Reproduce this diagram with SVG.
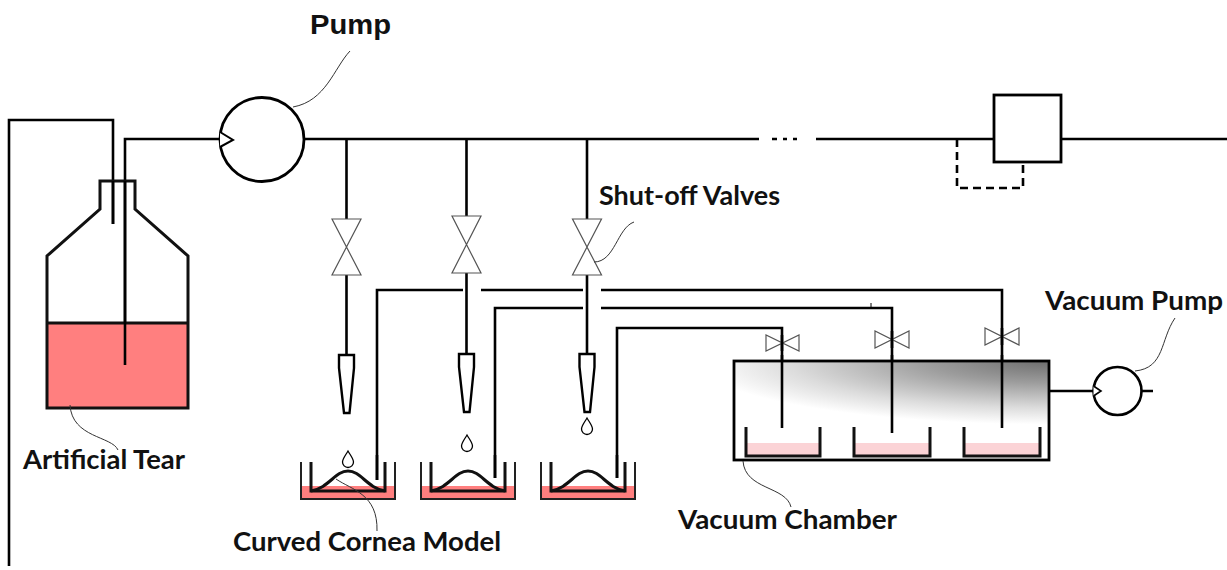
<svg xmlns="http://www.w3.org/2000/svg" width="1227" height="570" viewBox="0 0 1227 570">
  <style>
    .pipe { fill: none; stroke: #000; stroke-width: 2.6; }
    .thick { fill: none; stroke: #111; stroke-width: 3; }
    .valve { fill: #fff; stroke: #555; stroke-width: 1.2; stroke-linejoin: miter; }
    .lead { fill: none; stroke: #333; stroke-width: 1; }
    .lbl { font-family: Lato, "Open Sans", sans-serif; font-weight: bold; font-size: 26px; fill: #111; }
    .lbl2 { font-family: "Liberation Sans", Arial, sans-serif; font-weight: bold; font-size: 27px; fill: #111; }
    .tip { fill: #fff; stroke: #000; stroke-width: 2.4; stroke-linejoin: miter; }
    .drop { fill: #fff; stroke: #000; stroke-width: 1.3; }
    .pinkfill { fill: #ff7f7f; }
    .lightpink { fill: #fbd3d6; }
  </style>
  <defs>
    <radialGradient id="chamberShade" gradientUnits="userSpaceOnUse" cx="1049" cy="361" r="400"
      gradientTransform="translate(1049 361) scale(1 0.18) translate(-1049 -361)">
      <stop offset="0" stop-color="#6e6e6e"/>
      <stop offset="0.3" stop-color="#9c9c9c"/>
      <stop offset="0.65" stop-color="#dcdcdc"/>
      <stop offset="0.88" stop-color="#ffffff"/>
    </radialGradient>
  </defs>

  <rect width="1227" height="570" fill="#fff"/>

  <!-- pipework -->
  <g id="connectors">
    <!-- return line and feed line from the bottle -->
    <path class="pipe" d="M9,566 V120 H113 V224"/>
    <path class="pipe" d="M125,365 V139 H220"/>
    <!-- main header after the pump -->
    <path class="pipe" d="M304,139 H759"/>
    <path class="pipe" d="M772,139 H777 M783,139 H787 M793,139 H797"/>
    <path class="pipe" d="M816,139 H994 M1061,139 H1227"/>
    <path class="pipe" d="M957,139 V188 H1023 V165" stroke-dasharray="8 5"/>
    <!-- branches down to the dispensing tips -->
    <path class="pipe" d="M346.5,139 V219 M346.5,275 V355"/>
    <path class="pipe" d="M466.5,139 V216 M466.5,273 V354"/>
    <path class="pipe" d="M587,139 V219 M587,275 V354"/>
    <!-- suction lines from the dishes to the vacuum chamber -->
    <path class="pipe" d="M377,480 V290 H463 M481,290 H583 M601,290 H1002 V428"/>
    <path class="pipe" d="M495,478 V308 H583 M601,308 H892 V433"/>
    <path class="pipe" d="M617,478 V328 H782 V428"/>
    <path fill="none" stroke="#000" stroke-width="1" d="M871,303 V307"/>
    <!-- chamber to vacuum pump -->
    <path class="pipe" d="M1049,391 H1093 M1142,391 H1153"/>
  </g>

  <!-- artificial tear reservoir -->
  <g id="bottle">
    <rect class="pinkfill" x="47" y="323" width="141" height="85"/>
    <path class="thick" d="M47,408 V256 L100,209 V181 H135 V209 L188,256 V408 Z"/>
    <path class="thick" d="M47,323 H188"/>
    <path class="pipe" d="M113,181 V224 M125,181 V365"/>
  </g>

  <!-- circulation pump -->
  <g id="pump">
    <circle cx="262" cy="139.5" r="42" fill="#fff" stroke="#000" stroke-width="2.8"/>
    <path fill="#fff" stroke="#000" stroke-width="2" d="M220,132 L233,140 L220,147"/>
  </g>

  <!-- flow element with bypass -->
  <g id="flow-box">
    <rect x="994" y="95" width="67" height="67" fill="#fff" stroke="#000" stroke-width="2.8"/>
  </g>

  <!-- shut-off valves on the branches -->
  <g id="shutoff-valves">
    <path class="valve" d="M332,219 L361,219 L332,275 L361,275 Z"/>
    <path class="valve" d="M452,216 L481,216 L452,273 L481,273 Z"/>
    <path class="valve" d="M572.5,219 L601.5,219 L572.5,275 L601.5,275 Z"/>
  </g>

  <!-- dispensing tips and drops -->
  <g id="tips">
    <path class="tip" d="M339,355 H354 V368 L349.5,413 H344 L339,368 Z"/>
    <path class="tip" d="M459,354 H474 V367 L469.5,412 H464 L459,367 Z"/>
    <path class="tip" d="M579.5,354 H594.5 V367 L590,412 H584.5 L579.5,367 Z"/>
    <path class="drop" d="M348,451 C345,456 342.5,459 342.5,462 A5.5,5.5 0 0 0 353.5,462 C353.5,459 351,456 348,451 Z"/>
    <path class="drop" d="M467,435 C464,440 461.5,443 461.5,446 A5.5,5.5 0 0 0 472.5,446 C472.5,443 470,440 467,435 Z"/>
    <path class="drop" d="M587,418 C584,423 581.5,426 581.5,429 A5.5,5.5 0 0 0 592.5,429 C592.5,426 590,423 587,418 Z"/>
  </g>

  <!-- curved cornea model dishes -->
  <g id="cornea-dish-1">
    <rect class="pinkfill" x="301" y="486" width="94" height="13"/>
    <path fill="none" stroke="#222" stroke-width="2" d="M301,462 V499 H395 V462"/>
    <path class="thick" d="M311,462 V491 H385 V462"/>
    <path class="thick" d="M311,491 C329,488 335,471 348,471 C361,471 367,488 385,491"/>
  </g>
  <g id="cornea-dish-2">
    <rect class="pinkfill" x="421" y="486" width="94" height="13"/>
    <path fill="none" stroke="#222" stroke-width="2" d="M421,462 V499 H515 V462"/>
    <path class="thick" d="M431,462 V491 H505 V462"/>
    <path class="thick" d="M431,491 C449,488 455,471 468,471 C481,471 487,488 505,491"/>
  </g>
  <g id="cornea-dish-3">
    <rect class="pinkfill" x="541" y="486" width="94" height="13"/>
    <path fill="none" stroke="#222" stroke-width="2" d="M541,462 V499 H635 V462"/>
    <path class="thick" d="M551,462 V491 H625 V462"/>
    <path class="thick" d="M551,491 C569,488 575,471 588,471 C601,471 607,488 625,491"/>
  </g>
  <!-- suction line ends inside the dishes (drawn above the bumps) -->
  <g id="suction-ends">
    <path class="pipe" d="M377,455 V480 M495,455 V478 M617,455 V478"/>
  </g>

  <!-- vacuum chamber with collection beakers -->
  <g id="vacuum-chamber">
    <rect x="734" y="361" width="315" height="99" fill="url(#chamberShade)" stroke="#000" stroke-width="2.8"/>
    <rect class="lightpink" x="747" y="443" width="72" height="13"/>
    <rect class="lightpink" x="855" y="443" width="74" height="13"/>
    <rect class="lightpink" x="965" y="443" width="74" height="13"/>
    <path class="thick" d="M746,427 V456 H820 V427"/>
    <path class="thick" d="M854,427 V456 H930 V427"/>
    <path class="thick" d="M964,427 V456 H1040 V427"/>
    <path class="pipe" d="M782,355 V428 M892,355 V433 M1002,355 V428"/>
  </g>
  <g id="vacuum-valves">
    <path class="valve" d="M766,335 L766,351 L799,335 L799,351 Z"/>
    <path class="valve" d="M875,331 L875,348 L909,331 L909,348 Z"/>
    <path class="valve" d="M985,328 L985,345 L1019,328 L1019,345 Z"/>
    <path class="pipe" d="M782,335 V351 M892,331 V348 M1002,328 V345"/>
  </g>

  <!-- vacuum pump -->
  <g id="vacuum-pump">
    <circle cx="1117.5" cy="391" r="24" fill="#fff" stroke="#000" stroke-width="2.6"/>
    <path fill="#fff" stroke="#000" stroke-width="1.6" d="M1093.5,386 L1101,391 L1093.5,396"/>
  </g>

  <!-- labels and leader lines -->
  <g id="labels">
    <path class="lead" d="M350,51 C334,68 326,101 293,107"/>
    <text class="lbl2" x="310" y="34" textLength="81" lengthAdjust="spacingAndGlyphs">Pump</text>

    <path class="lead" d="M594,262 C615,262 617,228 634,222"/>
    <text class="lbl" x="599" y="205" textLength="181" lengthAdjust="spacingAndGlyphs">Shut-off Valves</text>

    <path class="lead" d="M70,405 C72,438 112,436 118,450"/>
    <text class="lbl" x="23" y="469" textLength="162" lengthAdjust="spacingAndGlyphs">Artificial Tear</text>

    <path class="lead" d="M336,479 C352,490 378,494 377,531"/>
    <text class="lbl" x="233" y="551" textLength="268" lengthAdjust="spacingAndGlyphs">Curved Cornea Model</text>

    <path class="lead" d="M743,461 C745,490 786,486 791,507"/>
    <text class="lbl" x="678" y="529" textLength="219" lengthAdjust="spacingAndGlyphs">Vacuum Chamber</text>

    <path class="lead" d="M1175,318 C1160,340 1165,368 1135,371"/>
    <text class="lbl" x="1045" y="310" textLength="178" lengthAdjust="spacingAndGlyphs">Vacuum Pump</text>
  </g>
</svg>
